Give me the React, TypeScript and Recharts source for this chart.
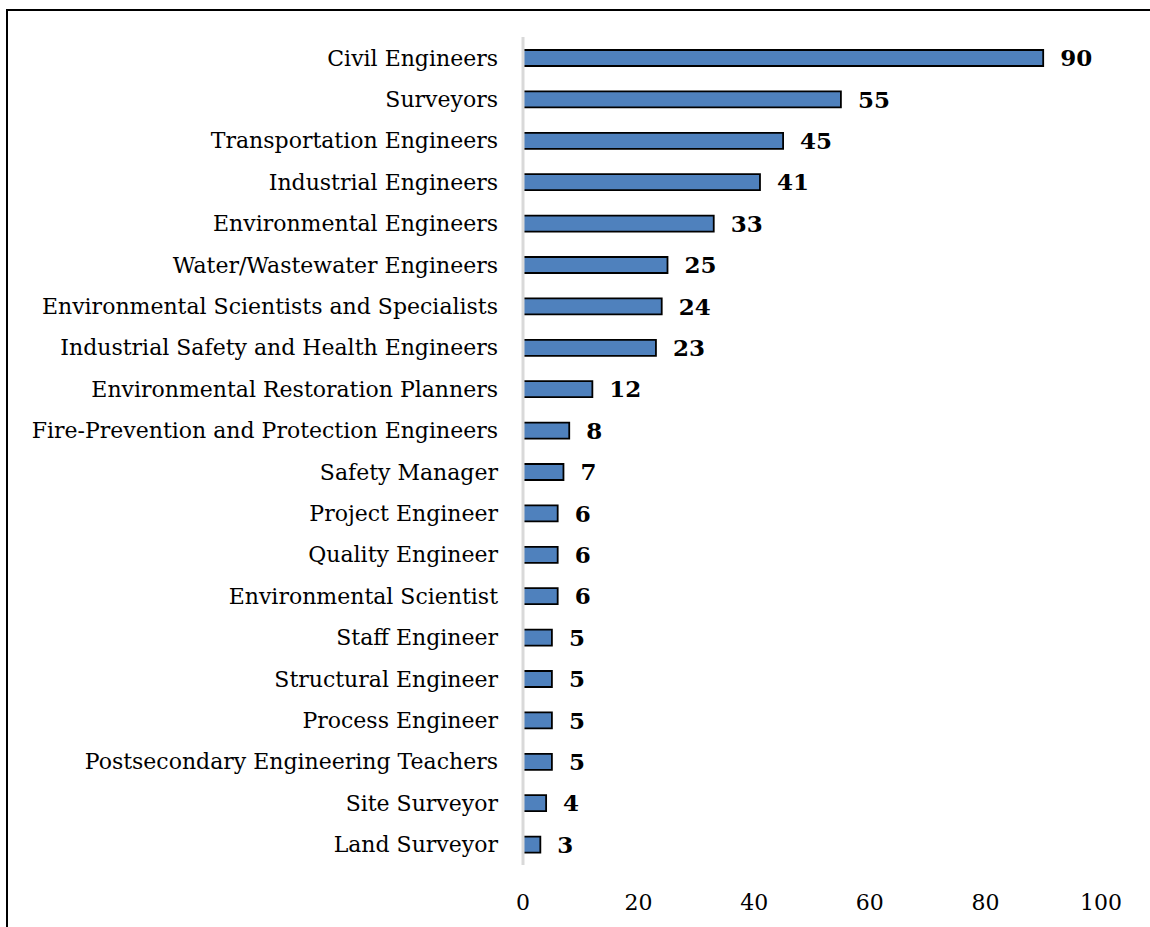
import { BarChart, Bar, XAxis, YAxis, LabelList } from "recharts"

const occupations = [
  "Civil Engineers",
  "Surveyors",
  "Transportation Engineers",
  "Industrial Engineers",
  "Environmental Engineers",
  "Water/Wastewater Engineers",
  "Environmental Scientists and Specialists",
  "Industrial Safety and Health Engineers",
  "Environmental Restoration Planners",
  "Fire-Prevention and Protection Engineers",
  "Safety Manager",
  "Project Engineer",
  "Quality Engineer",
  "Environmental Scientist",
  "Staff Engineer",
  "Structural Engineer",
  "Process Engineer",
  "Postsecondary Engineering Teachers",
  "Site Surveyor",
  "Land Surveyor",
]

const counts = [90, 55, 45, 41, 33, 25, 24, 23, 12, 8, 7, 6, 6, 6, 5, 5, 5, 5, 4, 3]

const xTicks = [0, 20, 40, 60, 80, 100]

const data = occupations.map((name, i) => ({ name, count: counts[i] }))

const font = "'DejaVu Serif', serif"

export default function App() {
  return (
    <div
      style={{
        position: "absolute",
        left: 6,
        top: 9,
        borderTop: "2px solid #000",
        borderLeft: "2px solid #000",
        width: 1142,
        height: 916,
        background: "#fff",
      }}
    >
      <BarChart
        width={1142}
        height={916}
        data={data}
        layout="vertical"
        margin={{ top: 26, right: 49, left: 0, bottom: 0 }}
        barSize={16}
      >
        <XAxis
          type="number"
          domain={[0, 100]}
          ticks={xTicks}
          axisLine={false}
          tickLine={false}
          height={62}
          tickMargin={23}
          tick={{ fill: "#000", fontSize: 22, fontFamily: font }}
        />
        <YAxis
          type="category"
          dataKey="name"
          width={515}
          tickLine={false}
          axisLine={{ stroke: "#d9d9d9", strokeWidth: 3 }}
          tickMargin={19}
          interval={0}
          tick={{ fill: "#000", fontSize: 22, fontFamily: font }}
        />
        <Bar
          dataKey="count"
          fill="#4f81bd"
          stroke="#000"
          strokeWidth={1.8}
          isAnimationActive={false}
        >
          <LabelList
            dataKey="count"
            position="right"
            offset={17}
            style={{ fill: "#000", fontSize: 23, fontWeight: "bold", fontFamily: font }}
          />
        </Bar>
      </BarChart>
    </div>
  )
}
